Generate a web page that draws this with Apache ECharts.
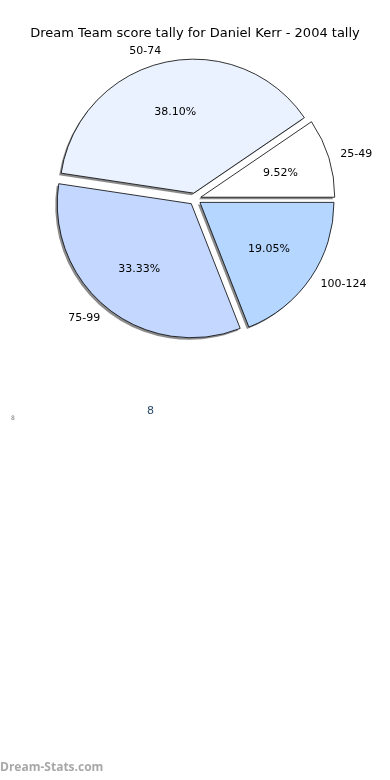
<!DOCTYPE html>
<html>
<head>
<meta charset="utf-8">
<script src="https://cdn.jsdelivr.net/npm/echarts@6/dist/echarts.min.js"></script>
<style>
html,body{margin:0;padding:0;background:#fff;}
#c{width:390px;height:780px;}
</style>
</head>
<body>
<div id="c"></div>
<script>
var categories = ['25-49', '50-74', '75-99', '100-124'];
var counts = [2, 8, 7, 4];
var colors = ['#ffffff', '#eaf2ff', '#c4d8ff', '#b4d6ff'];
var titleText = 'Dream Team score tally for Daniel Kerr - 2004 tally';

var R = 134;
var ctr = [195, 199];
var shadowCtr = [193, 201];
var font = 'DejaVu Sans';

function makeData(withColor) {
  return categories.map(function (c, i) {
    var d = { name: c, value: counts[i], selected: true };
    if (withColor) d.itemStyle = { color: colors[i] };
    return d;
  });
}

var common = {
  type: 'pie',
  startAngle: 0,
  clockwise: false,
  selectedMode: 'multiple',
  selectedOffset: 6,
  avoidLabelOverlap: false,
  silent: true
};

var chart = echarts.init(document.getElementById('c'), null, { renderer: 'canvas' });
chart.setOption({
  animation: false,
  backgroundColor: '#ffffff',
  title: {
    text: titleText, left: 'center', top: 22,
    textStyle: { fontFamily: font, fontSize: 13, fontWeight: 'normal', color: '#000' }
  },
  series: [
    Object.assign({}, common, {
      center: shadowCtr,
      radius: [0, R],
      z: 1,
      itemStyle: { color: 'rgba(110,110,110,0.8)', borderWidth: 0 },
      label: { show: false },
      labelLine: { show: false },
      data: makeData(false)
    }),
    Object.assign({}, common, {
      center: ctr,
      radius: [0, R],
      z: 2,
      itemStyle: { borderColor: '#000', borderWidth: 0.8 },
      label: {
        show: true, position: 'outside', fontFamily: font, fontSize: 11, color: '#000',
        distanceToLabelLine: 0
      },
      labelLine: { show: false, length: 12, length2: 0 },
      data: makeData(true)
    }),
    Object.assign({}, common, {
      center: ctr,
      radius: [0, R * 1.2],
      z: 5,
      itemStyle: { color: 'rgba(0,0,0,0)', borderWidth: 0 },
      label: {
        show: true, position: 'inside', fontFamily: font, fontSize: 11, color: '#000',
        formatter: function (p) { return p.percent.toFixed(2) + '%'; }
      },
      labelLine: { show: false },
      data: makeData(false)
    })
  ],
  graphic: [
    { type: 'text', left: 147, top: 406, style: { text: '8', fontFamily: font, fontSize: 11, fill: '#2a4a6a' } },
    { type: 'text', left: 11, top: 415, style: { text: '8', fontFamily: font, fontSize: 6, fill: '#777' } },
    { type: 'text', left: 0, top: 762, style: { text: 'Dream-Stats.com', fontFamily: 'Open Sans', fontWeight: 'bold', fontSize: 12, fill: '#a8a8a8' } }
  ]
});
</script>
</body>
</html>
